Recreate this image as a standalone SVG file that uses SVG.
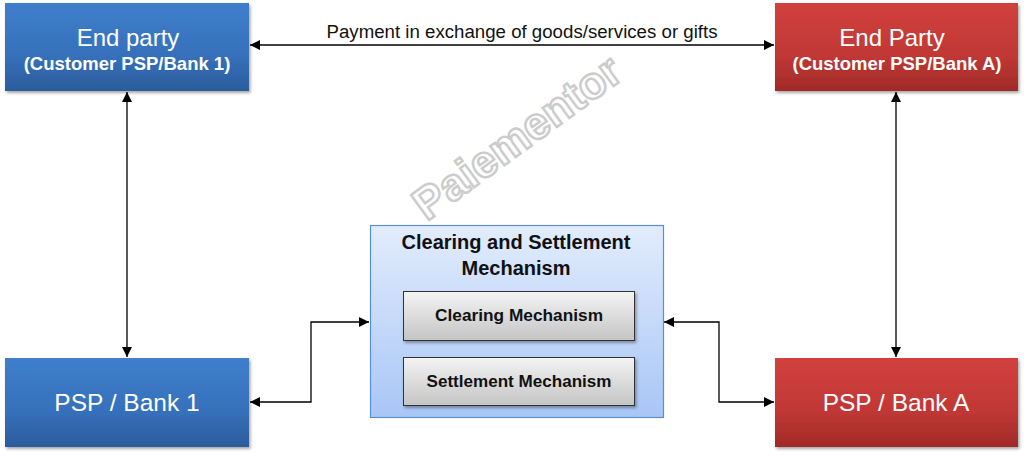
<svg xmlns="http://www.w3.org/2000/svg" width="1024" height="456" viewBox="0 0 1024 456">
<defs>
<linearGradient id="gBlue" x1="0" y1="0" x2="0" y2="1"><stop offset="0" stop-color="#3f7fcc"/><stop offset="0.6" stop-color="#3670bb"/><stop offset="1" stop-color="#2b5c9c"/></linearGradient>
<linearGradient id="gRed" x1="0" y1="0" x2="0" y2="1"><stop offset="0" stop-color="#d1403d"/><stop offset="0.6" stop-color="#c03835"/><stop offset="1" stop-color="#a02a28"/></linearGradient>
<linearGradient id="gLight" x1="0" y1="0" x2="0" y2="1"><stop offset="0" stop-color="#e2ecfc"/><stop offset="1" stop-color="#a8c6f6"/></linearGradient>
<linearGradient id="gGray" x1="0" y1="0" x2="0" y2="1"><stop offset="0" stop-color="#f4f4f4"/><stop offset="1" stop-color="#c4c4c4"/></linearGradient>
<filter id="sh" x="-5%" y="-5%" width="110%" height="115%"><feDropShadow dx="1.5" dy="2" stdDeviation="1.5" flood-color="#000" flood-opacity="0.35"/></filter>
<marker id="ah" viewBox="0 0 10 10" refX="10" refY="5" markerWidth="10" markerHeight="10" markerUnits="userSpaceOnUse" orient="auto-start-reverse"><path d="M0,0 L10,5 L0,10 z" fill="#000"/></marker>
</defs>
<style>
.t{font-family:"Liberation Sans",Arial,sans-serif;text-anchor:middle}
.w{fill:#fff}
.k{fill:#111}
.c{fill:none;stroke:#000;stroke-width:1.3}
</style>
<rect width="1024" height="456" fill="#fff"/>
<text class="t" x="0" y="0" transform="translate(519,140) rotate(-36)" font-size="45" font-weight="bold" fill="#fff" stroke="#cccccc" stroke-width="2.4" dominant-baseline="middle">Paiementor</text>
<g id="connectors">
<line class="c" x1="250" y1="45" x2="774" y2="45" marker-start="url(#ah)" marker-end="url(#ah)"/>
<line class="c" x1="127" y1="92" x2="127" y2="357" marker-start="url(#ah)" marker-end="url(#ah)"/>
<line class="c" x1="896" y1="92" x2="896" y2="357" marker-start="url(#ah)" marker-end="url(#ah)"/>
<polyline class="c" points="250,402 311,402 311,322 369,322" marker-start="url(#ah)" marker-end="url(#ah)"/>
<polyline class="c" points="664,322 719,322 719,402 774,402" marker-start="url(#ah)" marker-end="url(#ah)"/>
<path d="M519,341 L523,349 L519,357 L515,349 z" fill="#000"/>
<text class="t k" x="522" y="38" font-size="18" textLength="391" lengthAdjust="spacingAndGlyphs">Payment in exchange of goods/services or gifts</text>
</g>
<g id="endparty1">
<rect x="5" y="3" width="244" height="88" fill="url(#gBlue)" filter="url(#sh)"/>
<text class="t w" x="128" y="46" font-size="24">End party</text>
<text class="t w" x="127" y="70" font-size="18.5" font-weight="bold">(Customer PSP/Bank 1)</text>
</g>
<g id="endpartyA">
<rect x="775" y="3" width="243" height="88" fill="url(#gRed)" filter="url(#sh)"/>
<text class="t w" x="892" y="46" font-size="24">End Party</text>
<text class="t w" x="897" y="70" font-size="18.5" font-weight="bold">(Customer PSP/Bank A)</text>
</g>
<g id="psp1">
<rect x="5" y="358" width="244" height="89" fill="url(#gBlue)" filter="url(#sh)"/>
<text class="t w" x="127" y="411" font-size="24.5">PSP / Bank 1</text>
</g>
<g id="pspA">
<rect x="775" y="358" width="243" height="89" fill="url(#gRed)" filter="url(#sh)"/>
<text class="t w" x="896" y="411" font-size="24.5">PSP / Bank A</text>
</g>
<g id="csm">
<rect x="370.5" y="225.5" width="293" height="192" fill="url(#gLight)" stroke="#5a8fd2" stroke-width="1.2"/>
<text class="t k" x="516" y="249" font-size="20" font-weight="bold">Clearing and Settlement</text>
<text class="t k" x="516" y="275" font-size="20" font-weight="bold">Mechanism</text>
</g>
<g id="clearing">
<rect x="403.5" y="291.5" width="231" height="49" fill="url(#gGray)" stroke="#333" stroke-width="1" filter="url(#sh)"/>
<text class="t k" x="519" y="321" font-size="16.5" font-weight="bold" textLength="168" lengthAdjust="spacingAndGlyphs">Clearing Mechanism</text>
</g>
<g id="settlement">
<rect x="403.5" y="357.5" width="231" height="48" fill="url(#gGray)" stroke="#333" stroke-width="1" filter="url(#sh)"/>
<text class="t k" x="519" y="387" font-size="16.5" font-weight="bold" textLength="185" lengthAdjust="spacingAndGlyphs">Settlement Mechanism</text>
</g>
</svg>
